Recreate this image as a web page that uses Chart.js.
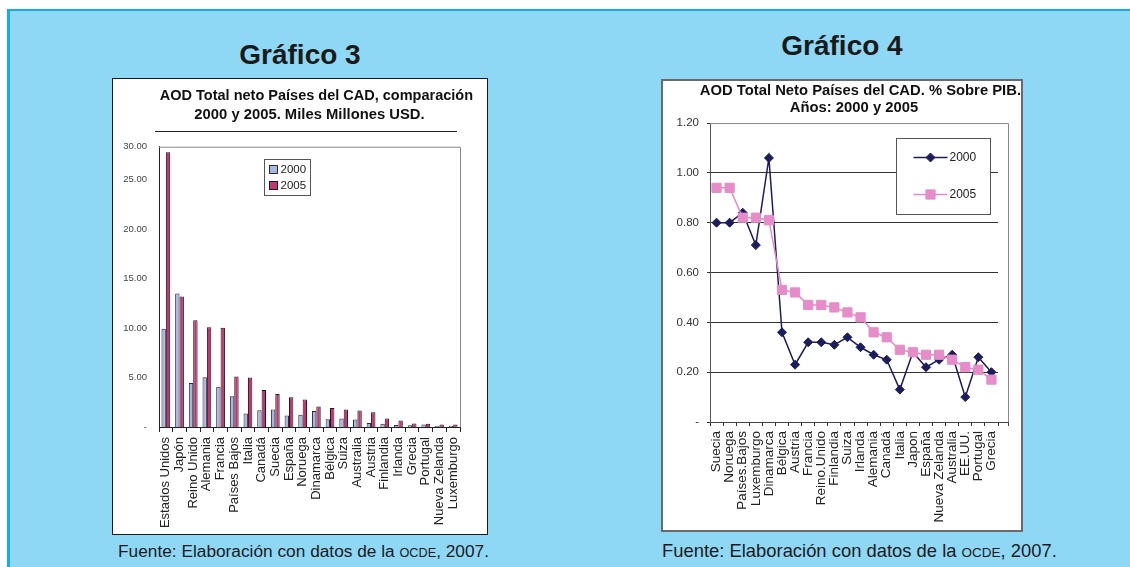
<!DOCTYPE html>
<html><head><meta charset="utf-8">
<script src="https://cdn.jsdelivr.net/npm/chart.js@4.4.1/dist/chart.umd.min.js"></script>
<style>
html,body{margin:0;padding:0;background:#fff;width:1130px;height:567px;overflow:hidden;font-family:Arial,"Liberation Sans",sans-serif;}
#panel{position:absolute;left:7px;top:9px;width:1120px;height:556px;background:#8ed8f6;border-left:3px solid #18ace6;border-top:2px solid #18ace6;}
.box{position:absolute;background:#fff;box-sizing:border-box;}
.h{position:absolute;font-weight:bold;font-size:28px;line-height:28px;color:#1a1a1a;text-align:center;width:300px;white-space:nowrap;}
.src{position:absolute;font-size:17.3px;line-height:20px;color:#1a1a1a;white-space:nowrap;}
.src span{font-size:12.7px;}
.src.r{font-size:18.4px;}
.src.r span{font-size:13.5px;}
canvas{position:absolute;}
.rule{position:absolute;height:1px;background:#222;}
</style></head>
<body>
<div id="panel"></div>
<div class="h" style="left:150px;top:41px;">Gráfico 3</div>
<div class="h" style="left:692px;top:32px;">Gráfico 4</div>
<div class="box" style="left:112px;top:78px;width:376px;height:457px;border:1px solid #1a1a1a;"></div>
<div class="box" style="left:661px;top:79px;width:362px;height:453px;border:2px solid #6a6a6a;"></div>
<canvas id="c3" width="374" height="455" style="left:113px;top:79px;"></canvas>
<canvas id="c4" width="358" height="449" style="left:663px;top:81px;"></canvas>
<div class="rule" style="left:155px;top:131px;width:302px;"></div>
<div class="src" style="left:118px;top:541px;">Fuente: Elaboración con datos de la <span>OCDE</span>, 2007.</div>
<div class="src r" style="left:662px;top:541px;">Fuente: Elaboración con datos de la <span>OCDE</span>, 2007.</div>
<script>
// ---- Gráfico 3 data ----
const categories3 = ['Estados Unidos','Japón','Reino Unido','Alemania','Francia','Países Bajos','Italia','Canadá','Suecia','España','Noruega','Dinamarca','Bélgica','Suiza','Australia','Austria','Finlandia','Irlanda','Grecia','Portugal','Nueva Zelanda','Luxemburgo'];
const aod2000 = [9.95,13.5,4.45,5.03,4.07,3.1,1.37,1.7,1.78,1.17,1.24,1.62,0.78,0.87,0.76,0.4,0.33,0.19,0.17,0.26,0.11,0.12];
const aod2005 = [27.8,13.2,10.8,10.1,10.05,5.1,5.0,3.75,3.34,3.02,2.78,2.08,1.92,1.77,1.66,1.5,0.87,0.66,0.36,0.32,0.25,0.25];
const yTickValues3 = [0,5,10,15,20,25,28.35];
const yTickLabels3 = ['-','5.00','10.00','15.00','20.00','25.00','30.00'];
const title3 = 'AOD Total neto Países del CAD, comparación';
const subtitle3 = '2000 y 2005. Miles Millones USD.';

// ---- Gráfico 4 data ----
const categories4 = ['Suecia','Noruega','Países.Bajos','Luxemburgo','Dinamarca','Bélgica','Austria','Francia','Reino.Unido','Finlandia','Suiza','Irlanda','Alemania','Canadá','Italia','Japon','España','Nueva Zelanda','Australia','EE.UU.','Portugal','Grecia'];
const pib2000 = [0.80,0.80,0.84,0.71,1.06,0.36,0.23,0.32,0.32,0.31,0.34,0.30,0.27,0.25,0.13,0.28,0.22,0.25,0.27,0.10,0.26,0.20];
const pib2005 = [0.94,0.94,0.82,0.82,0.81,0.53,0.52,0.47,0.47,0.46,0.44,0.42,0.36,0.34,0.29,0.28,0.27,0.27,0.25,0.22,0.21,0.17];
const yTickValues4 = [0,0.2,0.4,0.6,0.8,1.0,1.2];
const yTickLabels4 = ['-','0.20','0.40','0.60','0.80','1.00','1.20'];
const title4 = 'AOD Total Neto Países del CAD. % Sobre PIB.';
const subtitle4 = 'Años: 2000 y 2005';

Chart.defaults.font.family = 'Arial, "Liberation Sans", sans-serif';
Chart.defaults.animation = false;

// plot border for chart 3 (top + right)
const frame3 = {
  id:'frame3',
  afterDatasetsDraw(chart){
    const {ctx, chartArea:a} = chart;
    ctx.save();
    ctx.strokeStyle = '#8a8a8a'; ctx.lineWidth = 1;
    ctx.beginPath();
    ctx.moveTo(a.left, a.top+0.5); ctx.lineTo(a.right+0.5, a.top+0.5);
    ctx.lineTo(a.right+0.5, a.bottom);
    ctx.stroke();
    ctx.restore();
  }
};
const legend3 = {
  id:'legend3',
  afterDraw(chart){
    const {ctx, chartArea:a} = chart;
    const bx = Math.round(a.left+105)+0.5, by = Math.round(a.top+12)+0.5;
    ctx.save();
    ctx.fillStyle = '#fff'; ctx.fillRect(bx,by,46,36);
    ctx.strokeStyle = '#555'; ctx.lineWidth = 1; ctx.strokeRect(bx,by,46,36);
    ctx.font = '11.5px Arial, "Liberation Sans", sans-serif';
    ctx.textBaseline = 'middle';
    chart.data.datasets.forEach((ds,i)=>{
      const cy = by + 10 + i*16;
      ctx.fillStyle = ds.backgroundColor;
      ctx.fillRect(bx+5, cy-4, 8, 8);
      ctx.strokeStyle = ds.borderColor;
      ctx.strokeRect(bx+5, cy-4, 8, 8);
      ctx.fillStyle = '#222';
      ctx.fillText(ds.label, bx+16, cy+0.5);
    });
    ctx.restore();
  }
};

new Chart(document.getElementById('c3'), {
  type:'bar',
  data:{
    labels: categories3,
    datasets:[
      {label:'2000', data:aod2000, backgroundColor:'#a8b6e2', borderColor:'#2a2a3a', borderWidth:1},
      {label:'2005', data:aod2005, backgroundColor:'#bc3a6d', borderColor:'#2a1020', borderWidth:1}
    ]
  },
  options:{
    responsive:false,
    devicePixelRatio:1,
    categoryPercentage:0.64,
    barPercentage:1,
    layout:{padding:{top:0,left:0,right:14,bottom:0}},
    plugins:{
      legend:{display:false},
      tooltip:{enabled:false},
      title:{display:true, text:title3, fullSize:true, align:'end', color:'#111',
        font:{size:14.5, weight:'bold', lineHeight:1.24}, padding:{top:8,bottom:0}},
      subtitle:{display:true, text:subtitle3, fullSize:false, color:'#111',
        font:{size:14.8, weight:'bold', lineHeight:1.2}, padding:{top:1,bottom:23}}
    },
    scales:{
      x:{
        grid:{offset:true, drawOnChartArea:false, drawTicks:true, tickLength:5, color:'#222'},
        border:{display:true, color:'#222', width:1},
        ticks:{autoSkip:false, minRotation:90, maxRotation:90, padding:5, color:'#222', font:{size:13}},
        afterFit(s){ s.height = 107; }
      },
      y:{
        min:0, max:28.35,
        afterBuildTicks(s){ s.ticks = yTickValues3.map(v=>({value:v})); },
        grid:{display:false, drawTicks:false},
        border:{display:true, color:'#222', width:1},
        ticks:{padding:12, color:'#444', font:{size:9.5}, callback:(v,i)=>yTickLabels3[i]},
        afterFit(s){ s.width = 46; }
      },
      yr:{
        position:'right', display:true,
        grid:{display:false, drawTicks:false}, border:{display:false}, ticks:{display:false},
        afterFit(s){ s.width = 13; }
      }
    }
  },
  plugins:[frame3, legend3]
});

// chart 4 frame: top & right border extend beyond data area
const frame4 = {
  id:'frame4',
  afterDraw(chart){
    const {ctx, chartArea:a} = chart;
    const r = Math.round(a.right+10)+0.5;
    ctx.save();
    ctx.strokeStyle = '#8a8a8a'; ctx.lineWidth = 1;
    ctx.beginPath();
    ctx.moveTo(a.left, a.top+0.5); ctx.lineTo(r, a.top+0.5); ctx.lineTo(r, a.bottom);
    ctx.stroke();
    ctx.strokeStyle = '#444';
    ctx.beginPath();
    ctx.moveTo(a.right, a.bottom+0.5); ctx.lineTo(r, a.bottom+0.5);
    ctx.moveTo(r, a.bottom); ctx.lineTo(r, a.bottom+4);
    ctx.stroke();
    ctx.restore();
  }
};
const legend4 = {
  id:'legend4',
  afterDraw(chart){
    const {ctx, chartArea:a} = chart;
    const bx = Math.round(a.left+186)+0.5, by = Math.round(a.top+15)+0.5;
    ctx.save();
    ctx.fillStyle = '#fff'; ctx.fillRect(bx,by,94,76);
    ctx.strokeStyle = '#555'; ctx.lineWidth = 1; ctx.strokeRect(bx,by,94,76);
    ctx.font = '12px Arial, "Liberation Sans", sans-serif';
    ctx.textBaseline = 'middle';
    chart.data.datasets.forEach((ds,i)=>{
      const cy = by + 19 + i*37;
      ctx.strokeStyle = ds.borderColor; ctx.lineWidth = ds.borderWidth;
      ctx.beginPath(); ctx.moveTo(bx+17, cy); ctx.lineTo(bx+51, cy); ctx.stroke();
      ctx.fillStyle = ds.pointBackgroundColor; ctx.strokeStyle = ds.pointBackgroundColor; ctx.lineWidth = 1;
      Chart.helpers.drawPoint(ctx, {pointStyle:ds.pointStyle, radius:ds.pointRadius, borderWidth:1}, bx+34, cy);
      ctx.fillStyle = '#222';
      ctx.fillText(ds.label, bx+53, cy+0.5);
    });
    ctx.restore();
  }
};

new Chart(document.getElementById('c4'), {
  type:'line',
  data:{
    labels: categories4,
    datasets:[
      {label:'2000', data:pib2000, order:1, borderColor:'#1d1d5c', backgroundColor:'#1d1d5c',
        pointBackgroundColor:'#1d1d5c', pointBorderColor:'#1d1d5c', borderWidth:1.5,
        pointStyle:'rectRot', pointRadius:4.5, pointBorderWidth:1, tension:0},
      {label:'2005', data:pib2005, order:0, borderColor:'#e38ac6', backgroundColor:'#e68cc8',
        pointBackgroundColor:'#e68cc8', pointBorderColor:'#e68cc8', borderWidth:1.5,
        pointStyle:'rect', pointRadius:6.5, pointBorderWidth:1, tension:0}
    ]
  },
  options:{
    responsive:false,
    devicePixelRatio:1,
    layout:{padding:{top:0,left:0,right:0,bottom:0}},
    plugins:{
      legend:{display:false},
      tooltip:{enabled:false},
      title:{display:true, text:title4, fullSize:true, align:'end', color:'#111',
        font:{size:14.8, weight:'bold', lineHeight:1.15}, padding:{top:1.5,bottom:0}},
      subtitle:{display:true, text:subtitle4, fullSize:false, color:'#111',
        font:{size:14.8, weight:'bold', lineHeight:1.15}, padding:{top:0,bottom:6.5}}
    },
    scales:{
      x:{
        offset:true,
        grid:{offset:true, drawOnChartArea:false, drawTicks:true, tickLength:4, color:'#333'},
        border:{display:true, color:'#444', width:1},
        ticks:{autoSkip:false, minRotation:90, maxRotation:90, padding:5, color:'#222', font:{size:13.5}},
        afterFit(s){ s.height = 108; }
      },
      y:{
        min:0, max:1.2,
        afterBuildTicks(s){ s.ticks = yTickValues4.map(v=>({value:v})); },
        grid:{color:(c)=> (c.tick && c.tick.value > 1.19) ? 'rgba(0,0,0,0)' : '#333',
              tickColor:'#333', tickLength:3, lineWidth:1},
        border:{display:true, color:'#555', width:1},
        ticks:{padding:8, color:'#333', font:{size:11.5}, callback:(v,i)=>yTickLabels4[i]},
        afterFit(s){ s.width = 47; }
      },
      yr:{
        position:'right', display:true,
        grid:{display:false, drawTicks:false}, border:{display:false}, ticks:{display:false},
        afterFit(s){ s.width = 23; }
      }
    }
  },
  plugins:[frame4, legend4]
});
</script>
</body></html>
